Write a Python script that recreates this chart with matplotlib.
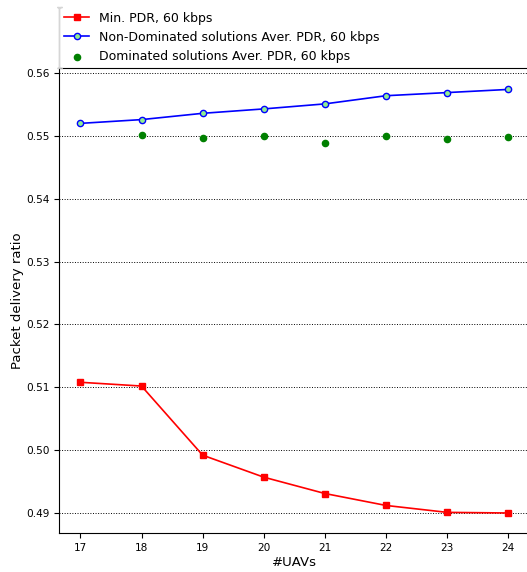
import numpy as np
import matplotlib
matplotlib.use('Agg')
import matplotlib.pyplot as plt

# Data
uavs = [17, 18, 19, 20, 21, 22, 23, 24]
min_pdr = [0.5108, 0.5102, 0.4992, 0.4957, 0.4931, 0.4912, 0.4901, 0.4900]
nondom_pdr = [0.5520, 0.5526, 0.5536, 0.5543, 0.5551, 0.5564, 0.5569, 0.5574]
dom_uavs = [18, 19, 20, 21, 22, 23, 24]
dom_pdr = [0.5502, 0.5497, 0.5500, 0.5489, 0.5500, 0.5495, 0.5498]
yticks = [0.49, 0.50, 0.51, 0.52, 0.53, 0.54, 0.55, 0.56]

fig = plt.figure(figsize=(5.27, 5.72), dpi=100)
ax = fig.add_axes([0.112, 0.068, 0.893, 0.813])

ax.plot(uavs, min_pdr, color='red', marker='s', markersize=5, linewidth=1.2,
        label='Min. PDR, 60 kbps')
ax.plot(uavs, nondom_pdr, color='blue', marker='o', markersize=4.5, linewidth=1.2,
        markerfacecolor='lightgreen', markeredgecolor='blue',
        label='Non-Dominated solutions Aver. PDR, 60 kbps')
ax.scatter(dom_uavs, dom_pdr, color='green', s=20, zorder=3,
           label='Dominated solutions Aver. PDR, 60 kbps')

ax.set_xlim(16.65, 24.35)
ax.set_ylim(0.4868, 0.5608)
ax.set_xticks(uavs)
ax.set_yticks(yticks)
ax.set_yticklabels(['%.2f' % v for v in yticks])
ax.tick_params(labelsize=7.6)
ax.grid(True, axis='y', linestyle=':', color='black', linewidth=0.7)

ax.set_xlabel('#UAVs', fontsize=9.5, labelpad=2)
ax.set_ylabel('Packet delivery ratio', fontsize=9.5, labelpad=1.5)

ax.legend(loc='lower left', bbox_to_anchor=(0, 1), fontsize=9,
          borderaxespad=0, mode='expand')

fig.savefig('out.png', dpi=100)
